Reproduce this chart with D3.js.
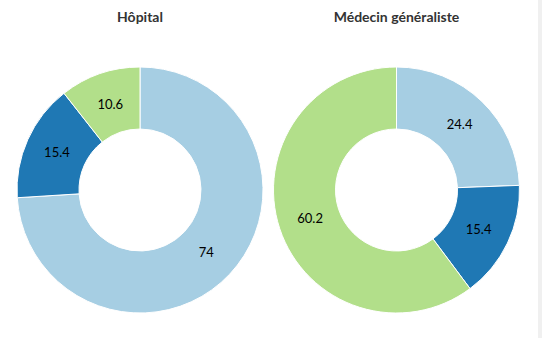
<!DOCTYPE html>
<html><head><meta charset="utf-8">
<script src="https://cdn.jsdelivr.net/npm/d3@7"></script>
<style>body{margin:0;background:#fff;overflow:hidden}</style>
</head><body>
<svg id="c" width="542" height="338"></svg>
<script>
const categories = ["A", "B", "C"];
const titles = ["Hôpital", "Médecin généraliste"];
const hopitalValues = [74, 15.4, 10.6];
const medecinValues = [24.4, 15.4, 60.2];
const colors = ["#a6cee3", "#1f78b4", "#b2df8a"];

const svg = d3.select("#c");
svg.append("rect").attr("x", 538).attr("y", 0).attr("width", 4).attr("height", 338).attr("fill", "#f0f0f0");

const color = d3.scaleOrdinal().domain(categories).range(colors);
const pie = d3.pie().sort(null).value(d => d.v);
const arc = d3.arc().innerRadius(61).outerRadius(123);
const labelArc = d3.arc().innerRadius(91).outerRadius(91);

const charts = [
  {title: titles[0], values: hopitalValues, cx: 140},
  {title: titles[1], values: medecinValues, cx: 396.5}
];
charts.forEach(ch => {
  const data = categories.map((c, i) => ({c, v: ch.values[i]}));
  const g = svg.append("g").attr("transform", `translate(${ch.cx},190)`);
  const arcs = pie(data);
  g.selectAll("path").data(arcs).join("path")
    .attr("d", arc).attr("fill", d => color(d.data.c))
    .attr("stroke", "#fff").attr("stroke-width", 1);
  g.selectAll("text").data(arcs).join("text")
    .attr("transform", d => `translate(${labelArc.centroid(d)})`)
    .attr("text-anchor", "middle").attr("dy", "0.35em")
    .attr("font-family", "Lato, sans-serif").attr("font-size", 13)
    .attr("fill", "#000")
    .text(d => d.data.v);
  svg.append("text").attr("x", ch.cx).attr("y", 22)
    .attr("text-anchor", "middle")
    .attr("font-family", "Lato, sans-serif").attr("font-weight", "bold")
    .attr("font-size", 14).attr("fill", "#333")
    .text(ch.title);
});
</script>
</body></html>
